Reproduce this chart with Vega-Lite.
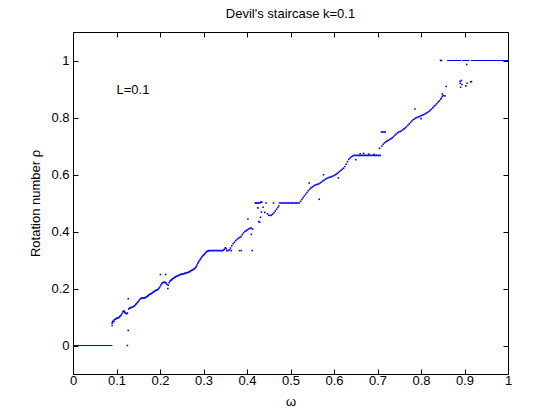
{
  "$schema": "https://vega.github.io/schema/vega-lite/v6.json",
  "autosize": {"type": "none"},
  "width": 435,
  "height": 342,
  "padding": {"left": 73, "top": 32, "right": 52, "bottom": 46},
  "background": "white",
  "config": {
    "view": {"stroke": "black", "strokeWidth": 1},
    "font": "Liberation Sans",
    "axis": {
      "grid": false,
      "domain": false,
      "tickColor": "black",
      "tickSize": -5,
      "labelFlush": false,
      "labelOverlap": false,
      "labelFont": "Liberation Sans",
      "labelFontSize": 13,
      "labelColor": "black",
      "titleFont": "Liberation Sans",
      "titleFontSize": 13,
      "titleFontWeight": "normal",
      "titleColor": "black"
    }
  },
  "title": {"text": "Devil's staircase k=0.1", "fontSize": 13, "fontWeight": "normal", "font": "Liberation Sans", "color": "black", "offset": 11},
  "datasets": {
    "pts": [
      {"w":0.090,"r":0.070},{"w":0.090,"r":0.078},{"w":0.091,"r":0.082},{"w":0.092,"r":0.086},{"w":0.094,"r":0.084},{"w":0.095,"r":0.090},{"w":0.097,"r":0.092},{"w":0.099,"r":0.094},{"w":0.101,"r":0.096},{"w":0.103,"r":0.097},{"w":0.105,"r":0.098},{"w":0.107,"r":0.101},{"w":0.109,"r":0.104},{"w":0.111,"r":0.107},{"w":0.113,"r":0.112},{"w":0.115,"r":0.118},{"w":0.116,"r":0.121},{"w":0.118,"r":0.120},{"w":0.119,"r":0.116},{"w":0.121,"r":0.113},{"w":0.123,"r":0.111},{"w":0.125,"r":0.114},{"w":0.127,"r":0.164},{"w":0.127,"r":0.053},{"w":0.125,"r":0.0},{"w":0.128,"r":0.128},{"w":0.130,"r":0.131},{"w":0.132,"r":0.133},{"w":0.134,"r":0.133},{"w":0.136,"r":0.134},{"w":0.138,"r":0.136},{"w":0.140,"r":0.138},{"w":0.142,"r":0.140},{"w":0.144,"r":0.144},{"w":0.146,"r":0.147},{"w":0.148,"r":0.151},{"w":0.150,"r":0.154},{"w":0.152,"r":0.158},{"w":0.154,"r":0.162},{"w":0.156,"r":0.165},{"w":0.158,"r":0.166},{"w":0.160,"r":0.167},{"w":0.162,"r":0.166},{"w":0.164,"r":0.167},{"w":0.166,"r":0.168},{"w":0.168,"r":0.170},{"w":0.170,"r":0.171},{"w":0.172,"r":0.174},{"w":0.174,"r":0.177},{"w":0.176,"r":0.179},{"w":0.178,"r":0.180},{"w":0.180,"r":0.182},{"w":0.182,"r":0.184},{"w":0.184,"r":0.187},{"w":0.186,"r":0.189},{"w":0.188,"r":0.191},{"w":0.190,"r":0.193},{"w":0.192,"r":0.194},{"w":0.194,"r":0.195},{"w":0.196,"r":0.198},{"w":0.198,"r":0.202},{"w":0.200,"r":0.206},{"w":0.201,"r":0.249},{"w":0.202,"r":0.212},{"w":0.204,"r":0.217},{"w":0.206,"r":0.220},{"w":0.208,"r":0.222},{"w":0.210,"r":0.222},{"w":0.212,"r":0.221},{"w":0.213,"r":0.249},{"w":0.214,"r":0.219},{"w":0.216,"r":0.214},{"w":0.218,"r":0.200},{"w":0.219,"r":0.212},{"w":0.221,"r":0.220},{"w":0.223,"r":0.226},{"w":0.225,"r":0.229},{"w":0.227,"r":0.231},{"w":0.229,"r":0.234},{"w":0.231,"r":0.236},{"w":0.233,"r":0.238},{"w":0.235,"r":0.240},{"w":0.237,"r":0.242},{"w":0.239,"r":0.243},{"w":0.241,"r":0.245},{"w":0.243,"r":0.246},{"w":0.245,"r":0.248},{"w":0.247,"r":0.249},{"w":0.249,"r":0.250},{"w":0.251,"r":0.251},{"w":0.253,"r":0.251},{"w":0.255,"r":0.252},{"w":0.257,"r":0.253},{"w":0.259,"r":0.254},{"w":0.261,"r":0.255},{"w":0.263,"r":0.256},{"w":0.265,"r":0.257},{"w":0.267,"r":0.258},{"w":0.269,"r":0.260},{"w":0.271,"r":0.262},{"w":0.273,"r":0.264},{"w":0.275,"r":0.265},{"w":0.277,"r":0.267},{"w":0.279,"r":0.269},{"w":0.281,"r":0.272},{"w":0.283,"r":0.276},{"w":0.285,"r":0.282},{"w":0.287,"r":0.289},{"w":0.289,"r":0.294},{"w":0.291,"r":0.299},{"w":0.293,"r":0.303},{"w":0.295,"r":0.308},{"w":0.297,"r":0.312},{"w":0.299,"r":0.316},{"w":0.301,"r":0.319},{"w":0.303,"r":0.322},{"w":0.305,"r":0.326},{"w":0.307,"r":0.329},{"w":0.309,"r":0.331},{"w":0.311,"r":0.332},{"w":0.313,"r":0.333},{"w":0.316,"r":0.333},{"w":0.319,"r":0.333},{"w":0.322,"r":0.333},{"w":0.325,"r":0.333},{"w":0.328,"r":0.333},{"w":0.331,"r":0.333},{"w":0.334,"r":0.333},{"w":0.337,"r":0.333},{"w":0.340,"r":0.333},{"w":0.343,"r":0.333},{"w":0.346,"r":0.334},{"w":0.348,"r":0.338},{"w":0.350,"r":0.343},{"w":0.352,"r":0.340},{"w":0.354,"r":0.333},{"w":0.357,"r":0.333},{"w":0.360,"r":0.336},{"w":0.362,"r":0.342},{"w":0.364,"r":0.333},{"w":0.365,"r":0.350},{"w":0.368,"r":0.357},{"w":0.371,"r":0.362},{"w":0.374,"r":0.368},{"w":0.377,"r":0.372},{"w":0.380,"r":0.376},{"w":0.383,"r":0.379},{"w":0.383,"r":0.333},{"w":0.386,"r":0.382},{"w":0.387,"r":0.333},{"w":0.389,"r":0.389},{"w":0.392,"r":0.395},{"w":0.395,"r":0.400},{"w":0.398,"r":0.403},{"w":0.401,"r":0.406},{"w":0.402,"r":0.444},{"w":0.404,"r":0.409},{"w":0.407,"r":0.411},{"w":0.410,"r":0.412},{"w":0.410,"r":0.390},{"w":0.412,"r":0.333},{"w":0.413,"r":0.408},{"w":0.419,"r":0.500},{"w":0.421,"r":0.500},{"w":0.423,"r":0.500},{"w":0.425,"r":0.500},{"w":0.425,"r":0.483},{"w":0.427,"r":0.500},{"w":0.427,"r":0.435},{"w":0.429,"r":0.433},{"w":0.430,"r":0.500},{"w":0.431,"r":0.450},{"w":0.432,"r":0.503},{"w":0.433,"r":0.468},{"w":0.434,"r":0.503},{"w":0.437,"r":0.485},{"w":0.441,"r":0.467},{"w":0.444,"r":0.500},{"w":0.447,"r":0.462},{"w":0.450,"r":0.457},{"w":0.453,"r":0.456},{"w":0.456,"r":0.457},{"w":0.459,"r":0.461},{"w":0.461,"r":0.500},{"w":0.462,"r":0.466},{"w":0.465,"r":0.472},{"w":0.468,"r":0.478},{"w":0.471,"r":0.484},{"w":0.473,"r":0.490},{"w":0.475,"r":0.500},{"w":0.478,"r":0.500},{"w":0.481,"r":0.500},{"w":0.484,"r":0.500},{"w":0.487,"r":0.500},{"w":0.490,"r":0.500},{"w":0.493,"r":0.500},{"w":0.496,"r":0.500},{"w":0.499,"r":0.500},{"w":0.502,"r":0.500},{"w":0.505,"r":0.500},{"w":0.508,"r":0.500},{"w":0.511,"r":0.500},{"w":0.514,"r":0.500},{"w":0.517,"r":0.500},{"w":0.520,"r":0.500},{"w":0.523,"r":0.506},{"w":0.526,"r":0.512},{"w":0.529,"r":0.519},{"w":0.532,"r":0.525},{"w":0.535,"r":0.531},{"w":0.538,"r":0.537},{"w":0.541,"r":0.543},{"w":0.543,"r":0.570},{"w":0.544,"r":0.548},{"w":0.547,"r":0.553},{"w":0.550,"r":0.556},{"w":0.553,"r":0.559},{"w":0.556,"r":0.562},{"w":0.559,"r":0.564},{"w":0.562,"r":0.566},{"w":0.565,"r":0.567},{"w":0.566,"r":0.513},{"w":0.568,"r":0.570},{"w":0.571,"r":0.573},{"w":0.574,"r":0.577},{"w":0.576,"r":0.599},{"w":0.577,"r":0.580},{"w":0.580,"r":0.583},{"w":0.583,"r":0.586},{"w":0.586,"r":0.588},{"w":0.589,"r":0.590},{"w":0.592,"r":0.591},{"w":0.595,"r":0.593},{"w":0.598,"r":0.595},{"w":0.601,"r":0.597},{"w":0.604,"r":0.600},{"w":0.607,"r":0.603},{"w":0.610,"r":0.588},{"w":0.610,"r":0.607},{"w":0.613,"r":0.611},{"w":0.616,"r":0.615},{"w":0.619,"r":0.618},{"w":0.622,"r":0.622},{"w":0.625,"r":0.628},{"w":0.628,"r":0.636},{"w":0.631,"r":0.645},{"w":0.634,"r":0.653},{"w":0.637,"r":0.658},{"w":0.640,"r":0.662},{"w":0.643,"r":0.665},{"w":0.646,"r":0.667},{"w":0.649,"r":0.667},{"w":0.650,"r":0.652},{"w":0.652,"r":0.667},{"w":0.655,"r":0.667},{"w":0.658,"r":0.667},{"w":0.660,"r":0.673},{"w":0.661,"r":0.667},{"w":0.664,"r":0.667},{"w":0.667,"r":0.667},{"w":0.668,"r":0.674},{"w":0.670,"r":0.667},{"w":0.673,"r":0.667},{"w":0.676,"r":0.667},{"w":0.679,"r":0.667},{"w":0.680,"r":0.672},{"w":0.682,"r":0.667},{"w":0.685,"r":0.667},{"w":0.688,"r":0.667},{"w":0.691,"r":0.667},{"w":0.692,"r":0.671},{"w":0.694,"r":0.667},{"w":0.697,"r":0.667},{"w":0.700,"r":0.667},{"w":0.703,"r":0.667},{"w":0.706,"r":0.667},{"w":0.705,"r":0.692},{"w":0.709,"r":0.749},{"w":0.712,"r":0.749},{"w":0.715,"r":0.749},{"w":0.718,"r":0.749},{"w":0.710,"r":0.700},{"w":0.713,"r":0.706},{"w":0.716,"r":0.711},{"w":0.719,"r":0.715},{"w":0.722,"r":0.717},{"w":0.725,"r":0.720},{"w":0.728,"r":0.723},{"w":0.731,"r":0.726},{"w":0.734,"r":0.729},{"w":0.737,"r":0.733},{"w":0.740,"r":0.738},{"w":0.743,"r":0.742},{"w":0.746,"r":0.746},{"w":0.749,"r":0.749},{"w":0.752,"r":0.751},{"w":0.755,"r":0.753},{"w":0.758,"r":0.757},{"w":0.761,"r":0.760},{"w":0.764,"r":0.764},{"w":0.767,"r":0.768},{"w":0.770,"r":0.773},{"w":0.773,"r":0.778},{"w":0.776,"r":0.783},{"w":0.779,"r":0.788},{"w":0.782,"r":0.792},{"w":0.785,"r":0.795},{"w":0.786,"r":0.830},{"w":0.788,"r":0.798},{"w":0.791,"r":0.800},{"w":0.794,"r":0.802},{"w":0.797,"r":0.804},{"w":0.800,"r":0.806},{"w":0.800,"r":0.796},{"w":0.803,"r":0.808},{"w":0.806,"r":0.810},{"w":0.809,"r":0.812},{"w":0.812,"r":0.815},{"w":0.815,"r":0.818},{"w":0.818,"r":0.821},{"w":0.821,"r":0.825},{"w":0.824,"r":0.829},{"w":0.827,"r":0.834},{"w":0.830,"r":0.839},{"w":0.833,"r":0.843},{"w":0.836,"r":0.848},{"w":0.839,"r":0.853},{"w":0.842,"r":0.858},{"w":0.845,"r":0.864},{"w":0.847,"r":0.868},{"w":0.849,"r":0.874},{"w":0.849,"r":0.883},{"w":0.851,"r":0.877},{"w":0.855,"r":0.876},{"w":0.858,"r":0.909},{"w":0.845,"r":1.0},{"w":0.847,"r":1.0},{"w":0.890,"r":0.927},{"w":0.890,"r":0.920},{"w":0.891,"r":0.906},{"w":0.893,"r":0.930},{"w":0.894,"r":0.916},{"w":0.903,"r":0.911},{"w":0.906,"r":0.920},{"w":0.905,"r":0.986},{"w":0.914,"r":0.925},{"w":0.916,"r":0.926}
    ],
    "flat": [
      {"seg":"a","w":0.0,"r":0.0},{"seg":"a","w":0.0905,"r":0.0},
      {"seg":"b","w":0.860,"r":1.0},{"seg":"b","w":0.892,"r":1.0},
      {"seg":"c","w":0.894,"r":1.0},{"seg":"c","w":0.912,"r":1.0},
      {"seg":"d","w":0.915,"r":1.0},{"seg":"d","w":1.0,"r":1.0}
    ]
  },
  "layer": [
    {
      "data": {"name": "flat"},
      "mark": {"type": "line", "color": "#0000ff", "strokeWidth": 1, "clip": true},
      "encoding": {
        "x": {"field": "w", "type": "quantitative", "scale": {"domain": [0, 1], "nice": false, "zero": false}, "title": "ω",
              "axis": {"orient": "bottom", "values": [0,0.1,0.2,0.3,0.4,0.5,0.6,0.7,0.8,0.9,1], "format": "~g", "labelPadding": 5, "titlePadding": 8}},
        "y": {"field": "r", "type": "quantitative", "scale": {"domain": [-0.1, 1.1], "nice": false, "zero": false}, "title": "Rotation number ρ",
              "axis": {"orient": "left", "values": [0,0.2,0.4,0.6,0.8,1], "format": "~g", "labelPadding": 9, "titlePadding": 8}},
        "detail": {"field": "seg"}
      }
    },
    {
      "data": {"name": "pts"},
      "mark": {"type": "square", "color": "#0000ff", "filled": true, "size": 2.5, "opacity": 1},
      "encoding": {
        "x": {"field": "w", "type": "quantitative", "axis": {"orient": "top", "values": [0,0.1,0.2,0.3,0.4,0.5,0.6,0.7,0.8,0.9,1], "labels": false, "title": null}},
        "y": {"field": "r", "type": "quantitative", "axis": {"orient": "right", "values": [0,0.2,0.4,0.6,0.8,1], "labels": false, "title": null}}
      }
    },
    {
      "data": {"values": [{"w": 0.1, "r": 0.895, "t": "L=0.1"}]},
      "mark": {"type": "text", "align": "left", "baseline": "middle", "fontSize": 13, "font": "Liberation Sans", "color": "black"},
      "encoding": {
        "x": {"field": "w", "type": "quantitative", "axis": null},
        "y": {"field": "r", "type": "quantitative", "axis": null},
        "text": {"field": "t"}
      }
    }
  ],
  "resolve": {"axis": {"x": "independent", "y": "independent"}}
}
